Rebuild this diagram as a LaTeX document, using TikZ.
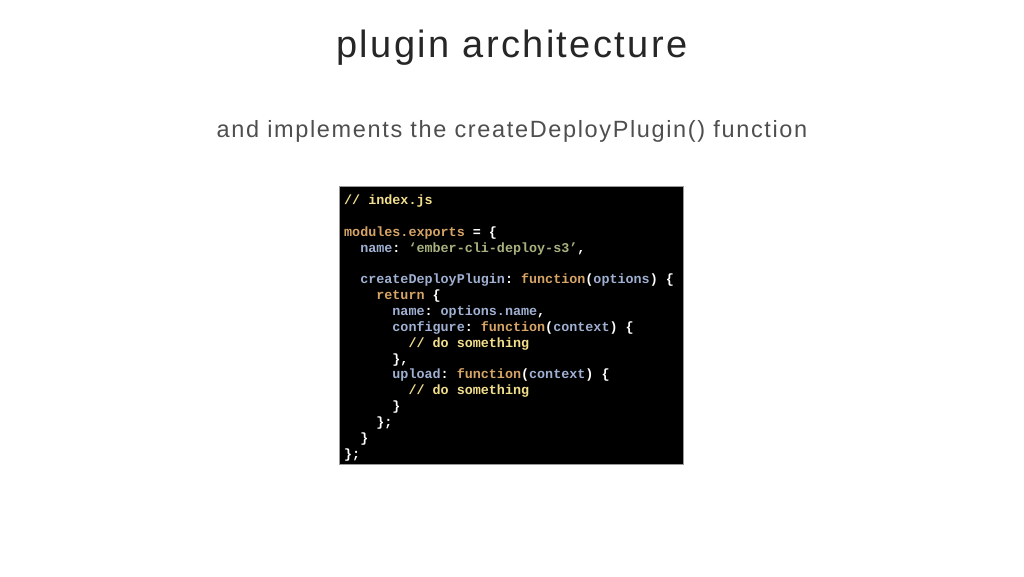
\documentclass[tikz,border=0pt]{standalone}
\usepackage{fontspec}
\usepackage{xcolor}
\usetikzlibrary{positioning}
\setmainfont{Liberation Sans}
\setmonofont{Liberation Mono}

\definecolor{titlegray}{HTML}{262626}
\definecolor{subgray}{HTML}{4E4E4E}
\definecolor{cmt}{HTML}{F2DF8C}
\definecolor{kw}{HTML}{D6A466}
\definecolor{prop}{HTML}{9FB0D2}
\definecolor{str}{HTML}{A8B27E}
\definecolor{frame}{HTML}{9A9A9A}

\newcommand\lvl[1]{\hspace*{\dimexpr 1.2em*#1\relax}}
\newcommand\cm[1]{\textcolor{cmt}{#1}}
\newcommand\kw[1]{\textcolor{kw}{#1}}
\newcommand\pr[1]{\textcolor{prop}{#1}}
\newcommand\st[1]{\textcolor{str}{#1}}

\tikzset{
  heading/.style={font=\fontsize{38}{40}\selectfont\addfontfeature{LetterSpace=6.3}, text=titlegray, inner sep=0pt, anchor=base},
  subheading/.style={font=\fontsize{23.5}{25}\selectfont\addfontfeature{LetterSpace=7}, text=subgray, inner sep=0pt, anchor=base},
  codebox/.style={fill=black, draw=frame, line width=0.8pt},
  codetext/.style={font=\ttfamily\bfseries\fontsize{13.4}{15.87}\selectfont, text=white, align=left, inner sep=0pt, anchor=north west}
}

\begin{document}
\begin{tikzpicture}[x=1pt, y=-1pt]
  \useasboundingbox (0,0) rectangle (1024,576);

  \node[heading] (title) at (512,57) {plugin architecture};
  \node[subheading] (subtitle) at (512,137) {and implements the createDeployPlugin() function};

  \draw[codebox] (339,186) rectangle (683,464);
  \node[codetext] (code) at (344,194.5) {%
    \cm{// index.js}\\
    ~\\
    \kw{modules.exports} = \{\\
    \lvl{1}\pr{name}: \st{‘ember-cli-deploy-s3’},\\
    ~\\
    \lvl{1}\pr{createDeployPlugin}: \kw{function}(\pr{options}) \{\\
    \lvl{2}\kw{return} \{\\
    \lvl{3}\pr{name}: \pr{options.name},\\
    \lvl{3}\pr{configure}: \kw{function}(\pr{context}) \{\\
    \lvl{4}\cm{// do something}\\
    \lvl{3}\},\\
    \lvl{3}\pr{upload}: \kw{function}(\pr{context}) \{\\
    \lvl{4}\cm{// do something}\\
    \lvl{3}\}\\
    \lvl{2}\};\\
    \lvl{1}\}\\
    \};};
\end{tikzpicture}
\end{document}
